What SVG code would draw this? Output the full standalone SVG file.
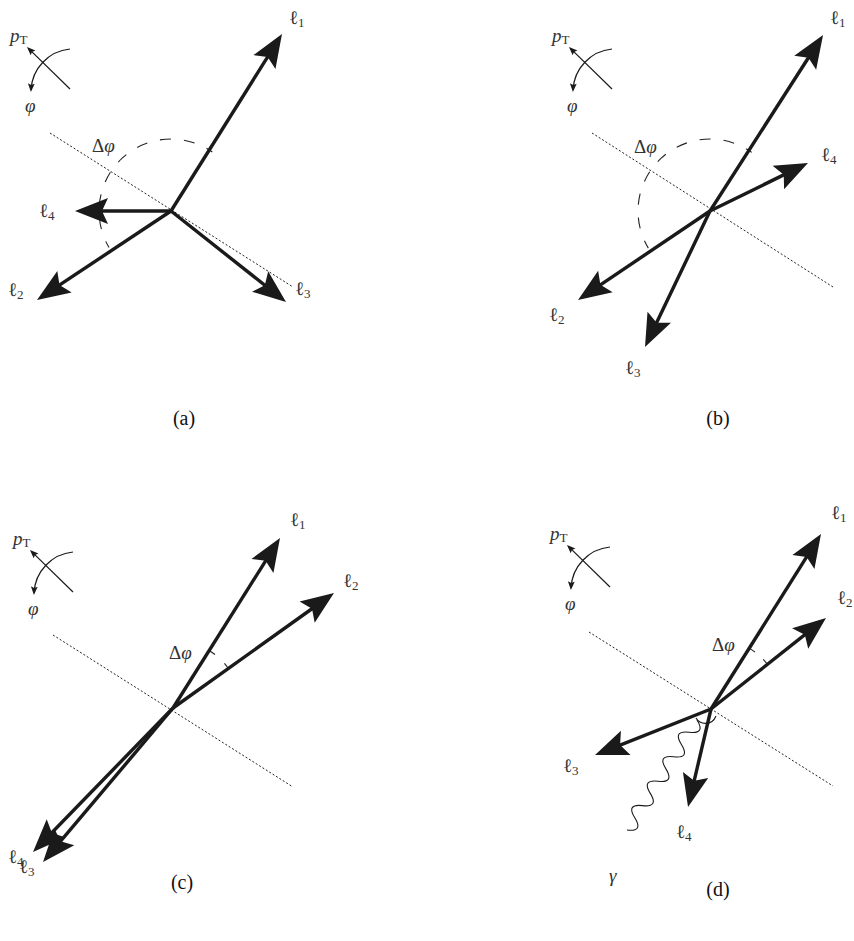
<svg xmlns="http://www.w3.org/2000/svg" width="854" height="941" viewBox="0 0 854 941">
<defs>
<style>
.vec{stroke:#1a1a1a;stroke-width:3.4;fill:none;marker-end:url(#big)}
.dot{stroke:#222;stroke-width:1;stroke-dasharray:2 2;fill:none}
.dash{stroke:#222;stroke-width:1.1;stroke-dasharray:11 13;fill:none}
.thin{stroke:#1a1a1a;stroke-width:1.2;fill:none;marker-end:url(#sm)}
.wave{stroke:#1a1a1a;stroke-width:1.1;fill:none}
.lbl{font-family:"Liberation Serif","DejaVu Serif",serif;font-size:19px;fill:#333}
.it{font-style:italic}
.sub{font-size:13px}
.cap{font-family:"Liberation Serif","DejaVu Serif",serif;font-size:20px;fill:#111;text-anchor:middle}
</style>
<marker id="big" markerUnits="userSpaceOnUse" viewBox="-30 -15 40 30" markerWidth="40" markerHeight="30" refX="0" refY="0" orient="auto" overflow="visible"><path d="M6,0 L-27,-13 L-21,0 L-27,13 Z" fill="#1a1a1a"/></marker>
<marker id="sm" markerUnits="userSpaceOnUse" viewBox="-10 -5 14 10" markerWidth="14" markerHeight="10" refX="0" refY="0" orient="auto" overflow="visible"><path d="M2,0 L-6.5,-3.4 L-5,0 L-6.5,3.4 Z" fill="#1a1a1a"/></marker>
<g id="icon">
<path class="thin" d="M70,89 L28.4,48.4"/>
<path class="thin" d="M70,49 A43.2,43.2 0 0 0 31,90"/>
<text class="lbl" x="10" y="42"><tspan class="it">p</tspan><tspan class="sub" dy="2">T</tspan></text>
<text class="lbl it" x="25" y="112">φ</text>
</g>
</defs>

<!-- Panel (a) -->
<g id="panel-a">
<g id="a-icon"><use href="#icon"/></g>
<g id="a-connectors">
<path class="dot" d="M50,133 L293,287"/>
<path class="dash" style="stroke-dashoffset:4" d="M212.3,152 A72,72 0 0 0 109,247.5"/>
<path class="vec" d="M171,211 L278.8,39.1"/>
<path class="vec" d="M171,211 L81,211"/>
<path class="vec" d="M171,211 L42,296.7"/>
<path class="vec" d="M171,211 L281.3,298.3"/>
</g>
<g id="a-labels">
<text class="lbl" x="289" y="24">ℓ<tspan class="sub" dy="3">1</tspan></text>
<text class="lbl" x="39" y="217">ℓ<tspan class="sub" dy="3">4</tspan></text>
<text class="lbl" x="8" y="296">ℓ<tspan class="sub" dy="3">2</tspan></text>
<text class="lbl" x="295" y="295">ℓ<tspan class="sub" dy="3">3</tspan></text>
<text class="lbl" x="92" y="152">Δ<tspan class="it">φ</tspan></text>
</g>
<text class="cap" x="184" y="425">(a)</text>
</g>

<!-- Panel (b) -->
<g id="panel-b">
<g id="b-icon"><use href="#icon" transform="translate(542,0)"/></g>
<g id="b-connectors">
<path class="dot" d="M592,133 L833,287"/>
<path class="dash" style="stroke-dashoffset:4" d="M751.8,152.4 A72,72 0 0 0 648.3,248.1"/>
<path class="vec" d="M710,211 L819.8,40"/>
<path class="vec" d="M710,211 L802.6,165.6"/>
<path class="vec" d="M710,211 L583,296.6"/>
<path class="vec" d="M710,211 L647.6,341.6"/>
</g>
<g id="b-labels">
<text class="lbl" x="830" y="24">ℓ<tspan class="sub" dy="3">1</tspan></text>
<text class="lbl" x="821" y="161">ℓ<tspan class="sub" dy="3">4</tspan></text>
<text class="lbl" x="549" y="321">ℓ<tspan class="sub" dy="3">2</tspan></text>
<text class="lbl" x="625" y="374">ℓ<tspan class="sub" dy="3">3</tspan></text>
<text class="lbl" x="634" y="153">Δ<tspan class="it">φ</tspan></text>
</g>
<text class="cap" x="718" y="425">(b)</text>
</g>

<!-- Panel (c) -->
<g id="panel-c">
<g id="c-icon"><use href="#icon" transform="translate(3,503)"/></g>
<g id="c-connectors">
<path class="dot" d="M53,635 L293,787"/>
<path class="dash" style="stroke-dasharray:7 13" d="M209.2,650.5 A68,68 0 0 1 228.4,668.5"/>
<path class="vec" d="M173,708 L276.8,543.1"/>
<path class="vec" d="M173,708 L329.1,596.5"/>
<path class="vec" d="M173,708 L37.2,847.7"/>
<path class="vec" d="M173,708 L46.9,857.4"/>
</g>
<g id="c-labels">
<text class="lbl" x="8" y="863">ℓ<tspan class="sub" dy="3">4</tspan></text>
<text class="lbl" x="19" y="873">ℓ<tspan class="sub" dy="3">3</tspan></text>
<text class="lbl" x="290" y="526">ℓ<tspan class="sub" dy="3">1</tspan></text>
<text class="lbl" x="343" y="587">ℓ<tspan class="sub" dy="3">2</tspan></text>
<text class="lbl" x="169" y="659">Δ<tspan class="it">φ</tspan></text>
</g>
<text class="cap" x="182" y="889">(c)</text>
</g>

<!-- Panel (d) -->
<g id="panel-d">
<g id="d-icon"><use href="#icon" transform="translate(540,498)"/></g>
<g id="d-connectors">
<path class="dot" d="M589,632 L833,786"/>
<path class="dash" style="stroke-dasharray:7 11" d="M749.3,648.1 A72,72 0 0 1 767.4,664.3"/>
<path class="vec" d="M711,709 L817.8,539.1"/>
<path class="vec" d="M711,709 L821.3,621.7"/>
<path class="vec" d="M711,709 L600.6,752.8"/>
<path class="vec" d="M711,709 L689.4,801.2"/>
<path class="wave" d="M696,718 C700,725 712,726 716,716"/>
<path class="wave" d="M697,720 Q705.9,734.2 689.2,732.2 T681.4,744.5 T673.7,756.7 T665.9,768.9 T658.1,781.2 T650.3,793.4 T642.5,805.6 T634.8,817.8 T627,830"/>
</g>
<g id="d-labels">
<text class="lbl" x="831" y="519">ℓ<tspan class="sub" dy="3">1</tspan></text>
<text class="lbl" x="837" y="604">ℓ<tspan class="sub" dy="3">2</tspan></text>
<text class="lbl" x="563" y="772">ℓ<tspan class="sub" dy="3">3</tspan></text>
<text class="lbl" x="676" y="838">ℓ<tspan class="sub" dy="3">4</tspan></text>
<text class="lbl it" x="609" y="882">γ</text>
<text class="lbl" x="712" y="651">Δ<tspan class="it">φ</tspan></text>
</g>
<text class="cap" x="718" y="896">(d)</text>
</g>
</svg>
